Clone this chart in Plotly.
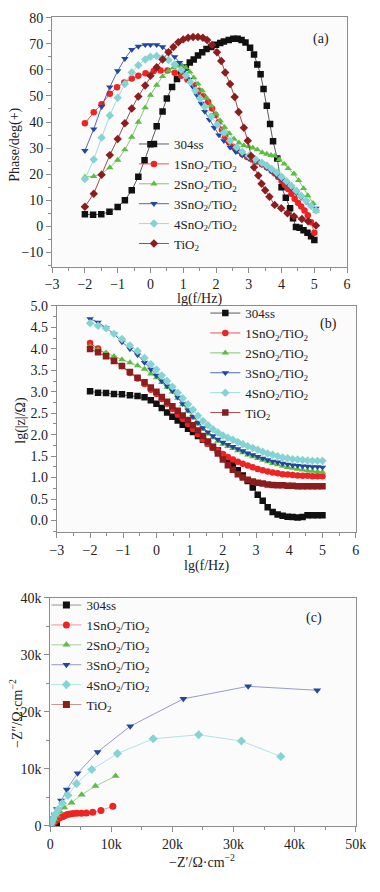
import plotly.graph_objects as go

# ---------------- data ----------------
series_names = ["304ss", "1SnO<sub>2</sub>/TiO<sub>2</sub>", "2SnO<sub>2</sub>/TiO<sub>2</sub>",
                "3SnO<sub>2</sub>/TiO<sub>2</sub>", "4SnO<sub>2</sub>/TiO<sub>2</sub>", "TiO<sub>2</sub>"]

# (a) Bode phase: lg(f/Hz) vs phase (deg)
xa_304 = [-2.0,-1.75,-1.5,-1.25,-1.0,-0.78,-0.57,-0.37,-0.18,0.0,0.19,0.37,0.5,0.66,0.81,0.94,1.08,1.2,1.32,1.45,
          1.58,1.71,1.85,2.0,2.13,2.24,2.39,2.53,2.66,2.78,2.9,3.04,3.16,3.26,3.36,3.45,3.55,3.65,3.74,3.87,
          4.0,4.13,4.26,4.35,4.44,4.55,4.67,4.79,4.9,5.0]
ya_304 = [4.6,4.4,4.6,5.6,7.4,10.0,13.8,19.0,25.3,31.5,38.4,44.0,49.0,53.4,56.5,59.0,60.9,62.8,64.0,65.5,
          66.8,68.0,68.8,69.6,70.3,70.9,71.5,71.9,71.9,71.5,70.5,68.5,65.9,62.1,58.3,52.7,46.2,39.2,32.6,26.0,
          15.0,10.9,6.9,3.1,-0.3,-0.6,-1.5,-2.5,-3.8,-5.3]

xa_1 = [-2.0,-1.73,-1.49,-1.24,-1.02,-0.8,-0.57,-0.37,-0.15,0.1,0.31,0.52,0.74,0.94,1.13,1.32,1.47,1.61,1.76,1.88,
        1.98,2.08,2.18,2.28,2.4,2.52,2.65,2.8,2.95,3.1,3.25,3.4,3.55,3.7,3.8,3.9,4.0,4.1,4.2,4.3,
        4.4,4.5,4.6,4.7,4.8,4.9,5.0]
ya_1 = [39.5,43.7,46.8,50.8,53.3,55.2,56.7,57.7,58.7,59.6,59.8,59.8,58.9,57.7,56.2,54.2,52.0,49.9,47.7,45.2,
        42.7,39.8,37.0,34.5,32.2,30.5,29.0,27.7,26.6,25.6,24.8,23.8,22.6,21.3,20.2,18.9,17.4,15.9,14.3,12.5,
        10.6,9.0,7.6,6.0,4.2,1.5,-2.5]

xa_2 = [-2.0,-1.73,-1.49,-1.24,-1.0,-0.78,-0.57,-0.37,-0.16,0.0,0.19,0.37,0.55,0.7,0.85,0.97,1.08,1.2,1.32,1.45,
        1.58,1.71,1.85,2.0,2.13,2.26,2.4,2.55,2.7,2.85,3.0,3.12,3.26,3.41,3.55,3.68,3.79,3.93,4.08,4.2,
        4.38,4.52,4.67,4.8,4.96,5.05]
ya_2 = [18.9,19.1,20.2,22.5,25.4,29.4,34.2,40.0,45.5,50.3,54.2,57.5,59.6,60.9,61.5,61.5,60.9,59.2,57.0,54.6,
        52.0,49.3,46.3,43.2,40.5,38.0,35.6,33.5,32.0,31.0,30.6,30.1,29.4,28.3,27.7,27.2,27.0,25.6,23.9,22.2,
        20.1,17.6,14.5,11.8,8.8,5.8]

xa_3 = [-2.0,-1.73,-1.49,-1.24,-1.0,-0.78,-0.57,-0.37,-0.16,0.0,0.19,0.37,0.55,0.74,0.89,1.03,1.17,1.3,1.42,1.55,
        1.66,1.8,1.95,2.09,2.24,2.43,2.6,2.8,3.0,3.2,3.4,3.55,3.7,3.85,4.0,4.15,4.3,4.45,4.6,4.75,
        4.9,5.05]
ya_3 = [29.0,37.3,45.9,53.4,59.6,64.3,67.8,69.0,69.6,69.6,69.6,68.8,67.1,65.0,62.8,59.6,56.3,53.4,50.3,47.1,
        44.0,40.9,37.8,35.0,32.8,30.3,28.6,27.2,26.0,24.9,23.6,22.4,21.0,19.5,18.0,16.4,14.6,12.8,11.0,9.3,
        7.8,6.9]

xa_4 = [-2.0,-1.73,-1.49,-1.24,-1.0,-0.78,-0.57,-0.37,-0.16,0.0,0.19,0.37,0.55,0.74,0.94,1.08,1.22,1.37,1.51,1.66,
        1.85,2.04,2.24,2.43,2.63,2.8,3.0,3.2,3.4,3.55,3.7,3.85,4.0,4.15,4.3,4.45,4.6,4.75,4.9,5.05]
ya_4 = [18.1,25.6,34.0,42.5,49.3,54.6,59.0,61.8,64.0,65.0,65.3,64.6,63.8,62.1,60.0,57.8,55.3,52.1,49.0,45.9,
        42.1,39.0,35.9,32.8,30.3,28.6,27.0,25.7,24.4,23.3,22.0,20.6,19.0,17.3,15.5,13.6,11.7,9.8,7.8,6.0]

xa_T = [-2.0,-1.73,-1.49,-1.24,-1.0,-0.78,-0.57,-0.37,-0.16,0.0,0.19,0.37,0.55,0.7,0.85,1.0,1.15,1.3,1.45,1.6,
        1.73,1.88,2.03,2.16,2.28,2.43,2.57,2.69,2.85,2.97,3.07,3.16,3.29,3.39,3.5,3.63,3.79,3.99,4.18,4.38,
        4.62,4.81,5.05]
ya_T = [7.5,12.5,19.8,27.3,33.5,39.5,45.2,49.8,54.0,57.7,61.0,64.0,66.8,68.8,70.6,71.7,72.3,72.6,72.6,72.3,
        71.5,69.6,66.8,63.4,59.0,54.6,49.6,43.8,37.8,32.8,27.0,22.6,19.5,16.3,13.8,11.3,8.2,6.9,5.0,3.8,
        2.8,1.9,0.3]

# (b) Bode modulus: lg(f/Hz) vs lg|Z|
xb = [-2.0,-1.76,-1.52,-1.28,-1.04,-0.8,-0.57,-0.36,-0.17,0.0,0.16,0.32,0.48,0.64,0.79,0.95,1.1,1.25,1.4,1.55,
      1.7,1.85,2.0,2.15,2.3,2.45,2.6,2.75,2.9,3.05,3.2,3.35,3.5,3.65,3.8,3.95,4.1,4.25,4.4,4.55,
      4.7,4.85,5.0]
yb_304 = [3.01,2.98,2.97,2.95,2.94,2.92,2.90,2.87,2.80,2.72,2.62,2.52,2.42,2.33,2.23,2.14,2.06,1.97,1.88,1.80,
          1.72,1.63,1.52,1.42,1.30,1.17,1.05,0.92,0.77,0.60,0.46,0.31,0.20,0.14,0.11,0.09,0.08,0.07,0.08,0.12,
          0.12,0.12,0.12]
yb_1 = [4.14,4.01,3.87,3.74,3.60,3.44,3.31,3.18,3.05,2.95,2.83,2.72,2.60,2.48,2.37,2.25,2.13,2.01,1.89,1.79,
        1.70,1.62,1.55,1.48,1.42,1.37,1.32,1.28,1.24,1.20,1.17,1.14,1.12,1.10,1.08,1.07,1.06,1.05,1.04,1.04,
        1.03,1.03,1.03]
yb_2 = [4.06,3.98,3.91,3.83,3.75,3.68,3.61,3.53,3.42,3.33,3.22,3.11,3.00,2.85,2.70,2.55,2.40,2.26,2.13,2.02,
        1.93,1.85,1.78,1.73,1.68,1.63,1.58,1.53,1.49,1.45,1.41,1.37,1.33,1.30,1.27,1.24,1.22,1.20,1.18,1.16,
        1.15,1.14,1.13]
yb_3 = [4.70,4.62,4.49,4.35,4.16,4.00,3.86,3.68,3.52,3.38,3.25,3.13,3.02,2.87,2.72,2.57,2.42,2.28,2.16,2.06,
        1.97,1.89,1.82,1.77,1.72,1.67,1.62,1.57,1.53,1.49,1.45,1.41,1.38,1.36,1.33,1.31,1.29,1.28,1.27,1.26,
        1.25,1.25,1.24]
yb_4 = [4.60,4.54,4.48,4.35,4.23,4.08,3.95,3.79,3.64,3.52,3.38,3.25,3.12,2.98,2.85,2.71,2.58,2.44,2.32,2.22,
        2.13,2.05,1.98,1.93,1.88,1.83,1.78,1.73,1.69,1.65,1.60,1.56,1.53,1.50,1.47,1.45,1.43,1.42,1.41,1.40,
        1.39,1.39,1.39]
yb_T = [4.00,3.92,3.83,3.72,3.60,3.46,3.33,3.22,3.10,3.00,2.88,2.77,2.66,2.56,2.45,2.34,2.22,2.10,1.97,1.84,
        1.70,1.56,1.42,1.29,1.18,1.08,1.00,0.95,0.91,0.88,0.86,0.84,0.83,0.82,0.82,0.81,0.81,0.80,0.80,0.80,
        0.80,0.80,0.80]

# (c) Nyquist: Z' vs -Z'' (ohm cm2)
xc_304 = [1000,960,920,870,800,700,580,450,300,150,50]
yc_304 = [80,100,140,190,240,280,300,290,230,140,50]
xc_1 = [10250,8300,6970,5930,5100,4370,3740,3230,2800,2400,2000,1500,1100,700,400,200]
yc_1 = [3450,2740,2400,2300,2250,2230,2180,2120,2020,1850,1620,1400,1100,750,450,200]
xc_2 = [10700,7400,5150,3500,2300,1600,1100,700,400,200]
yc_2 = [8750,7000,5500,4100,3260,2500,1800,1200,700,300]
xc_3 = [43700,32400,21800,13100,7750,4480,2710,1780,1100,730,500,300,200,100]
yc_3 = [23800,24500,22300,17500,13000,9260,6400,4460,2970,2000,1400,1000,600,300]
xc_4 = [37750,31300,24300,16850,11000,6800,4300,2900,2000,1300,800,450,250,120]
yc_4 = [12200,14900,16000,15300,12700,9900,7430,5400,4000,2900,2000,1300,800,400]
xc_T = [800,600,450,320,200,100]
yc_T = [300,320,300,250,170,80]

x_ticks_f = [-3, -2, -1, 0, 1, 2, 3, 4, 5, 6]
a_yticks = [-10, 0, 10, 20, 30, 40, 50, 60, 70, 80]
b_yticks = [0.0, 0.5, 1.0, 1.5, 2.0, 2.5, 3.0, 3.5, 4.0, 4.5, 5.0]
c_ticks = [0, 10000, 20000, 30000, 40000, 50000]
c_ticktext = ["0", "10k", "20k", "30k", "40k", "50k"]

# ---------------- style ----------------
colors = ["#111111", "#ee2424", "#5dbb46", "#22489c", "#86d3d3", "#8b1d1d"]
line_a = ["#333333", "#ee2424", "#5dbb46", "#22489c", "#86d3d3", "#8b1d1d"]
line_c = ["#8a8a8a", "#f08a8a", "#99cc88", "#8a90c8", "#a8e0e0", "#c08a8a"]
sym_a = ["square", "circle", "triangle-up", "triangle-down", "diamond", "diamond"]
sym_bc = ["square", "circle", "triangle-up", "triangle-down", "diamond", "square"]
FONT = "Liberation Serif"
OFF = 8                 # page body margin of the html output
W, H = 380 - OFF, 892 - OFF


def fx(p):
    return (p - OFF) / W


def fy(p):
    return 1 - (p - OFF) / H


fig = go.Figure()

a_data = [(xa_304, ya_304), (xa_1, ya_1), (xa_2, ya_2), (xa_3, ya_3), (xa_4, ya_4), (xa_T, ya_T)]
b_data = [yb_304, yb_1, yb_2, yb_3, yb_4, yb_T]
c_data = [(xc_304, yc_304), (xc_1, yc_1), (xc_2, yc_2), (xc_3, yc_3), (xc_4, yc_4), (xc_T, yc_T)]

for i, (xs, ys) in enumerate(a_data):
    fig.add_trace(go.Scatter(x=xs, y=ys, mode="lines+markers", name=series_names[i],
                             xaxis="x", yaxis="y", legend="legend",
                             line=dict(color=line_a[i], width=0.8),
                             marker=dict(symbol=sym_a[i], size=6.5, color=colors[i])))
for i, ys in enumerate(b_data):
    fig.add_trace(go.Scatter(x=xb, y=ys, mode="lines+markers", name=series_names[i],
                             xaxis="x2", yaxis="y2", legend="legend2",
                             line=dict(color=line_a[i], width=0.8),
                             marker=dict(symbol=sym_bc[i], size=6.5, color=colors[i])))
c_order = [5, 0, 1, 2, 3, 4]
for i in c_order:
    xs, ys = c_data[i]
    fig.add_trace(go.Scatter(x=xs, y=ys, mode="lines+markers", name=series_names[i],
                             xaxis="x3", yaxis="y3", legend="legend3", legendrank=i + 1,
                             line=dict(color=line_c[i], width=0.9),
                             marker=dict(symbol=sym_bc[i], size=7, color=colors[i])))

axis_common = dict(showline=True, linecolor="#8c8c8c", linewidth=1, mirror=True,
                   ticks="outside", ticklen=5, tickcolor="#8c8c8c", showgrid=False, zeroline=False,
                   tickfont=dict(family=FONT, size=14, color="#222222"))
minor_c = dict(ticks="outside", ticklen=3, tickcolor="#8c8c8c")
leg_font = dict(family=FONT, size=13, color="#222222")

fig.update_layout(
    width=W, height=H, autosize=False,
    margin=dict(l=0, r=0, t=0, b=0),
    paper_bgcolor="white", plot_bgcolor="#fbfbfb",
    font=dict(family=FONT, size=14, color="#222222"),
    xaxis=dict(domain=[fx(47), fx(357)], range=[-3, 6], tickvals=x_ticks_f, anchor="y",
               minor=dict(dtick=0.5, **minor_c), **axis_common),
    yaxis=dict(domain=[fy(264), fy(10)], range=[-15.5, 80.3], tickvals=a_yticks, anchor="x",
               minor=dict(dtick=5, **minor_c), **axis_common),
    xaxis2=dict(domain=[fx(52), fx(366)], range=[-3, 6], tickvals=x_ticks_f, anchor="y2",
                minor=dict(dtick=0.5, **minor_c), **axis_common),
    yaxis2=dict(domain=[fy(534), fy(304)], range=[-0.27, 5.0], tickvals=b_yticks, tickformat=".1f", anchor="x2",
                minor=dict(dtick=0.25, **minor_c), **axis_common),
    xaxis3=dict(domain=[fx(45), fx(366)], range=[0, 50000], tickvals=c_ticks, ticktext=c_ticktext, anchor="y3",
                minor=dict(dtick=5000, **minor_c), **axis_common),
    yaxis3=dict(domain=[fy(833), fy(601)], range=[0, 40000], tickvals=c_ticks[:5], ticktext=c_ticktext[:5],
                anchor="x3", minor=dict(dtick=5000, **minor_c), **axis_common),
    legend=dict(x=fx(133), y=fy(124), xanchor="left", yanchor="top", bgcolor="rgba(0,0,0,0)",
                font=leg_font, tracegroupgap=0),
    legend2=dict(x=fx(208), y=fy(296), xanchor="left", yanchor="top", bgcolor="rgba(0,0,0,0)",
                 font=leg_font, tracegroupgap=0),
    legend3=dict(x=fx(41), y=fy(593), xanchor="left", yanchor="top", bgcolor="rgba(0,0,0,0)",
                 font=leg_font, tracegroupgap=0),
)

ann = [
    dict(text="(a)", x=fx(330), y=fy(32)),
    dict(text="(b)", x=fx(337), y=fy(322)),
    dict(text="(c)", x=fx(322), y=fy(621)),
    dict(text="lg(f/Hz)", x=fx(202), y=fy(297)),
    dict(text="lg(f/Hz)", x=fx(209), y=fy(569)),
    dict(text="−Z′/Ω·cm<sup>−2</sup>", x=fx(205), y=fy(869)),
    dict(text="Phase/deg(+)", x=fx(8), y=fy(140), textangle=-90),
    dict(text="lg(|z|/Ω)", x=fx(14), y=fy(420), textangle=-90),
    dict(text="−Z″/Ω·cm<sup>−2</sup>", x=fx(9), y=fy(718), textangle=-90),
]
for a in ann:
    fig.add_annotation(xref="paper", yref="paper", showarrow=False, xanchor="center", yanchor="middle",
                       font=dict(family=FONT, size=14, color="#222222"), **a)

fig.write_html("out.html")
